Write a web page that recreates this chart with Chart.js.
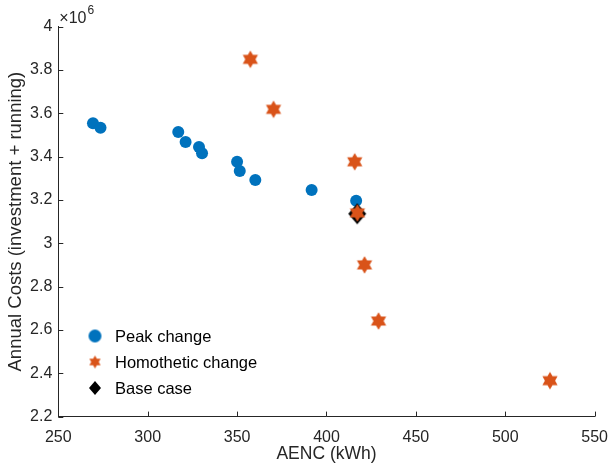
<!DOCTYPE html>
<html>
<head>
<meta charset="utf-8">
<script src="https://cdn.jsdelivr.net/npm/chart.js@4/dist/chart.umd.min.js"></script>
<style>
html,body{margin:0;padding:0;background:#fff;}
#wrap{width:613px;height:466px;position:relative;}
</style>
</head>
<body>
<div id="wrap"><canvas id="c" width="613" height="466"></canvas></div>
<script>
// ---- Data ----
const peakAENC = [269.4, 273.6, 317.1, 321.2, 328.7, 330.4, 350.0, 351.5, 360.2, 391.7, 416.6];
const peakCost = [3.554e6, 3.533e6, 3.513e6, 3.467e6, 3.444e6, 3.416e6, 3.376e6, 3.333e6, 3.292e6, 3.246e6, 3.196e6];
const homAENC  = [357.4, 370.4, 415.8, 417.3, 421.3, 429.1, 525.0];
const homCost  = [3.849e6, 3.618e6, 3.376e6, 3.140e6, 2.900e6, 2.641e6, 2.366e6];
const baseAENC = [417.2];
const baseCost = [3.136e6];
const seriesNames = ['Peak change', 'Homothetic change', 'Base case'];
const xTicks = [250, 300, 350, 400, 450, 500, 550];
const yTicks = [2.2e6, 2.4e6, 2.6e6, 2.8e6, 3.0e6, 3.2e6, 3.4e6, 3.6e6, 3.8e6, 4.0e6];

const BLUE = '#0072BD', ORANGE = '#D95319', BLACK = '#000000', AX = '#262626';
const FONT = '"Liberation Sans", Arial, Helvetica, sans-serif';

function toPts(xs, ys){ return xs.map((x,i)=>({x:x, y:ys[i]})); }

function hexagram(R, color){
  const s = Math.ceil(2*R)+2;
  const c = document.createElement('canvas'); c.width = s; c.height = s;
  const g = c.getContext('2d');
  const cx = s/2, cy = s/2, r = R/Math.sqrt(3);
  g.beginPath();
  for(let k=0;k<12;k++){
    const a = -Math.PI/2 + k*Math.PI/6;
    const rr = (k%2===0)?R:r;
    const px = cx + rr*Math.cos(a), py = cy + rr*Math.sin(a);
    if(k===0) g.moveTo(px,py); else g.lineTo(px,py);
  }
  g.closePath();
  g.fillStyle = color; g.fill();
  return c;
}
function diamond(hw, hh, color){
  const w = Math.ceil(2*hw)+2, h = Math.ceil(2*hh)+2;
  const c = document.createElement('canvas'); c.width = w; c.height = h;
  const g = c.getContext('2d');
  const cx = w/2, cy = h/2;
  g.beginPath();
  g.moveTo(cx, cy-hh); g.lineTo(cx+hw, cy); g.lineTo(cx, cy+hh); g.lineTo(cx-hw, cy);
  g.closePath();
  g.fillStyle = color; g.fill();
  return c;
}
function circle(r, color){
  const s = Math.ceil(2*r)+2;
  const c = document.createElement('canvas'); c.width = s; c.height = s;
  const g = c.getContext('2d');
  g.beginPath(); g.arc(s/2, s/2, r, 0, Math.PI*2);
  g.fillStyle = color; g.fill();
  return c;
}

const starPlot = hexagram(8.8, ORANGE);
const diamPlot = diamond(9, 10.5, BLACK);
const legendMarkers = [circle(6.5, BLUE), hexagram(6.5, ORANGE), diamond(6, 7, BLACK)];

const overlay = {
  id: 'overlay',
  afterDraw(chart){
    const ctx = chart.ctx;
    const xs = chart.scales.x, ys = chart.scales.y;
    const area = chart.chartArea;
    ctx.save();
    ctx.strokeStyle = AX; ctx.lineWidth = 1;
    // inward tick marks
    xs.ticks.forEach(t=>{
      const px = Math.round(xs.getPixelForValue(t.value)) + 0.5;
      ctx.beginPath(); ctx.moveTo(px, area.bottom); ctx.lineTo(px, area.bottom - 5); ctx.stroke();
    });
    ys.ticks.forEach(t=>{
      const py = Math.round(ys.getPixelForValue(t.value)) + 0.5;
      ctx.beginPath(); ctx.moveTo(area.left, py); ctx.lineTo(area.left + 5, py); ctx.stroke();
    });
    // exponent label
    ctx.fillStyle = AX;
    ctx.textAlign = 'left'; ctx.textBaseline = 'alphabetic';
    ctx.font = '16px ' + FONT;
    ctx.fillText('\u00D710', area.left + 1, 23);
    const w = ctx.measureText('\u00D710').width;
    ctx.font = '12px ' + FONT;
    ctx.fillText('6', area.left + 1 + w + 1, 14);
    // legend
    ctx.font = '16.5px ' + FONT;
    ctx.textBaseline = 'middle';
    const rowsY = [336, 362, 388];
    chart.data.datasets.forEach((ds, i)=>{
      const m = legendMarkers[i];
      ctx.drawImage(m, 95 - m.width/2, rowsY[i] - m.height/2);
      ctx.fillStyle = '#000';
      ctx.fillText(ds.label, 115, rowsY[i] + 1);
    });
    ctx.restore();
  }
};

new Chart(document.getElementById('c'), {
  type: 'scatter',
  data: {
    datasets: [
      { label: seriesNames[0], data: toPts(peakAENC, peakCost), pointStyle: 'circle', pointRadius: 6, pointHoverRadius: 6,
        backgroundColor: BLUE, borderColor: BLUE, borderWidth: 0, order: 2 },
      { label: seriesNames[1], data: toPts(homAENC, homCost), pointStyle: starPlot, pointRadius: 9,
        backgroundColor: ORANGE, borderColor: ORANGE, borderWidth: 0, order: 0 },
      { label: seriesNames[2], data: toPts(baseAENC, baseCost), pointStyle: diamPlot, pointRadius: 10,
        backgroundColor: BLACK, borderColor: BLACK, borderWidth: 0, order: 1 }
    ]
  },
  options: {
    responsive: false,
    animation: false,
    devicePixelRatio: 1,
    layout: { padding: { top: 26.6, right: 14.7, left: 0, bottom: 0 } },
    plugins: { legend: { display: false }, tooltip: { enabled: false } },
    scales: {
      x: {
        type: 'linear', min: xTicks[0], max: xTicks[xTicks.length-1],
        afterBuildTicks: s => { s.ticks = xTicks.map(v=>({value:v})); },
        afterFit: s => { s.height = 49.4; },
        ticks: { color: AX, font: { family: FONT, size: 16 }, padding: 5, maxRotation: 0,
                 callback: v => String(v) },
        grid: { display: true, drawOnChartArea: false, drawTicks: true, tickLength: 6, tickColor: 'rgba(0,0,0,0)' },
        border: { display: true, color: AX, width: 1 },
        title: { display: true, text: 'AENC (kWh)', color: AX, font: { family: FONT, size: 17.5 }, padding: { top: 0, bottom: 1.5 } }
      },
      y: {
        type: 'linear', min: yTicks[0], max: yTicks[yTicks.length-1],
        afterBuildTicks: s => { s.ticks = yTicks.map(v=>({value:v})); },
        afterFit: s => { s.width = 58.3; },
        ticks: { color: AX, font: { family: FONT, size: 16 }, padding: 3,
                 callback: v => String(Math.round(v/1e5)/10) },
        grid: { display: true, drawOnChartArea: false, drawTicks: true, tickLength: 3, tickColor: 'rgba(0,0,0,0)' },
        border: { display: true, color: AX, width: 1 },
        title: { display: true, text: 'Annual Costs (investment + running)', color: AX, font: { family: FONT, size: 18.5 }, padding: { top: 5, bottom: 0 } }
      }
    }
  },
  plugins: [overlay]
});
</script>
</body>
</html>
